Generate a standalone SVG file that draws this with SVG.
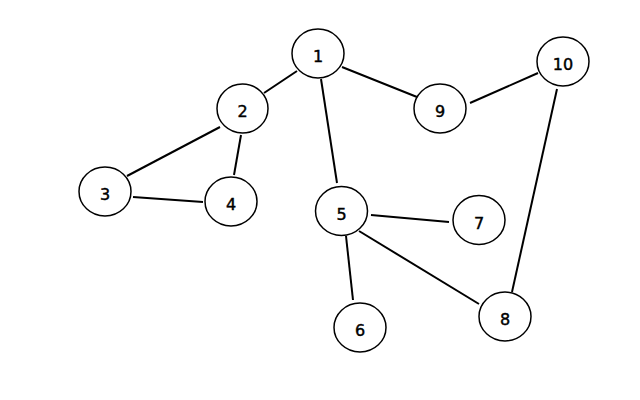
<svg xmlns="http://www.w3.org/2000/svg" width="640" height="400" viewBox="0 0 640 400">
<style>
.n ellipse{fill:#fff;stroke:#000;stroke-width:1.5}
.n text{font-family:"DejaVu Sans",Verdana,sans-serif;font-size:16px;text-anchor:middle;fill:#000;stroke:#000;stroke-width:0.45}
#edges line{stroke:#000;stroke-width:2}
</style>
<rect width="640" height="400" fill="#fff"/>
<g id="edges">
<line x1="264" y1="93" x2="297" y2="71"/>
<line x1="321" y1="79" x2="337" y2="183"/>
<line x1="342" y1="67" x2="417" y2="97"/>
<line x1="470" y1="103" x2="538" y2="73"/>
<line x1="557" y1="89" x2="512" y2="292"/>
<line x1="127" y1="176" x2="220" y2="127"/>
<line x1="241" y1="135" x2="234" y2="175"/>
<line x1="133" y1="197" x2="203" y2="202"/>
<line x1="371" y1="215" x2="449" y2="222"/>
<line x1="346" y1="236" x2="353" y2="300"/>
<line x1="359" y1="231" x2="479" y2="304"/>
</g>
<g id="node1" class="n"><ellipse cx="318" cy="53.5" rx="26" ry="24.5"/><text x="318" y="62">1</text></g>
<g id="node2" class="n"><ellipse cx="242.5" cy="108.5" rx="25.5" ry="24.5"/><text x="242.5" y="117">2</text></g>
<g id="node3" class="n"><ellipse cx="105" cy="191.5" rx="26" ry="24.5"/><text x="105" y="200">3</text></g>
<g id="node4" class="n"><ellipse cx="231" cy="201.5" rx="26" ry="24.5"/><text x="231" y="210">4</text></g>
<g id="node5" class="n"><ellipse cx="341.5" cy="211" rx="26" ry="24.5"/><text x="341.5" y="219.5">5</text></g>
<g id="node6" class="n"><ellipse cx="360" cy="327.5" rx="26" ry="24.5"/><text x="360" y="336">6</text></g>
<g id="node7" class="n"><ellipse cx="479" cy="220" rx="26" ry="24.5"/><text x="479" y="228.5">7</text></g>
<g id="node8" class="n"><ellipse cx="505" cy="316.5" rx="26" ry="24.5"/><text x="505" y="325">8</text></g>
<g id="node9" class="n"><ellipse cx="440" cy="108.5" rx="26" ry="24.5"/><text x="440" y="117">9</text></g>
<g id="node10" class="n"><ellipse cx="563" cy="61.5" rx="26" ry="24.5"/><text x="563" y="70">10</text></g>
</svg>
